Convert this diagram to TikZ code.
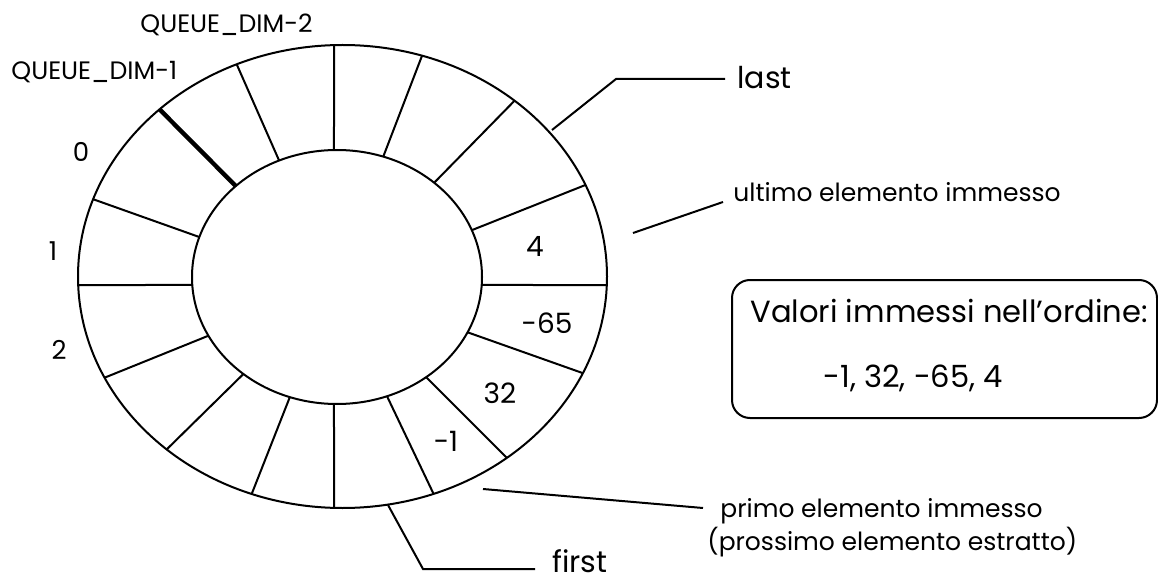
\documentclass[tikz,border=0pt]{standalone}
\usepackage{fontspec}
\setmainfont{Poppins}
\usetikzlibrary{intersections,calc}
\begin{document}
\begin{tikzpicture}[x=0.5pt,y=-0.5pt,
  ring/.style={line width=1pt},
  spoke/.style={line width=1pt},
  hspoke/.style={line width=2.2pt},
  lead/.style={line width=1pt},
  lbl/.style={inner sep=0pt, font=\fontsize{12.6}{14}\selectfont},
  idx/.style={inner sep=0pt, font=\fontsize{13}{15}\selectfont},
  val/.style={inner sep=0pt, font=\fontsize{14}{16}\selectfont},
  ptr/.style={inner sep=0pt, font=\fontsize{15}{18}\selectfont},
  note/.style={inner sep=0pt, font=\fontsize{12.5}{14}\selectfont},
  boxtxt/.style={inner sep=0pt, font=\fontsize{15.3}{18}\selectfont},
  panel/.style={line width=1pt, rounded corners=9pt}]
\useasboundingbox (0,0) rectangle (1158,583);

% circular buffer: two rings and the cell separators
\draw[ring, name path=outer] (342.5,276.5) ellipse [x radius=132.25pt, y radius=115.75pt];
\draw[ring, name path=inner] (337,277) ellipse [x radius=72.5pt, y radius=63.5pt];
\coordinate (c) at (334,285);
\foreach \a in {-90,-69,-45.6,-21.7,0,19.5,45,64.5,90,111.5,135.5,158,180,-160.4,-113.8} {
  \path[name path=ray] (c) -- ($(c)+(\a:450)$);
  \path[name intersections={of=ray and inner,name=i}];
  \path[name intersections={of=ray and outer,name=o}];
  \draw[spoke] (i-1) -- (o-1);
}
% the separator between QUEUE_DIM-1 and 0
\path[name path=hray] (c) -- ($(c)+(-134.8:450)$);
\path[name intersections={of=hray and inner,name=hi}];
\path[name intersections={of=hray and outer,name=ho}];
\draw[hspoke] (hi-1) -- (ho-1);

% cell indices
\node[lbl, anchor=base west] (qd2) at (140,33) {QUEUE\_DIM-2};
\node[lbl, anchor=base west] (qd1) at (11,80) {QUEUE\_DIM-1};
\node[idx] (i0) at (81,152) {0};
\node[idx] (i1) at (53,251) {1};
\node[idx] (i2) at (59,350) {2};

% stored values
\node[val] (v4) at (535,246) {4};
\node[val] (v65) at (547,323) {-65};
\node[val] (v32) at (500,393) {32};
\node[val] (v1) at (446,441) {-1};

% pointers and notes
\node[ptr, anchor=base west] (last) at (737,89) {last};
\coordinate (lastA) at (552,130);
\coordinate (lastB) at (616,79);
\coordinate (lastC) at (725,79);
\draw[lead] (lastA) -- (lastB) -- (lastC);

\node[note, anchor=base west] (ultimo) at (733,202) {ultimo elemento immesso};
\coordinate (ultA) at (633,233);
\coordinate (ultB) at (723,202);
\draw[lead] (ultA) -- (ultB);

\node[note, anchor=base west] (primo1) at (720,517) {primo elemento immesso};
\node[note, anchor=base west] (primo2) at (707,550) {(prossimo elemento estratto)};
\coordinate (priA) at (483,489);
\coordinate (priB) at (703,508);
\draw[lead] (priA) -- (priB);

\node[ptr, anchor=base west] (first) at (552,572) {first};
\coordinate (firA) at (388,505);
\coordinate (firB) at (423,569);
\coordinate (firC) at (535,569);
\draw[lead] (firA) -- (firB) -- (firC);

% summary panel
\draw[panel] (732,280) rectangle (1157,418);
\node[boxtxt, anchor=base west] (order) at (750,322) {Valori immessi nell’ordine:};
\node[boxtxt, anchor=base west] (seq) at (823,387) {-1, 32, -65, 4};
\end{tikzpicture}
\end{document}
